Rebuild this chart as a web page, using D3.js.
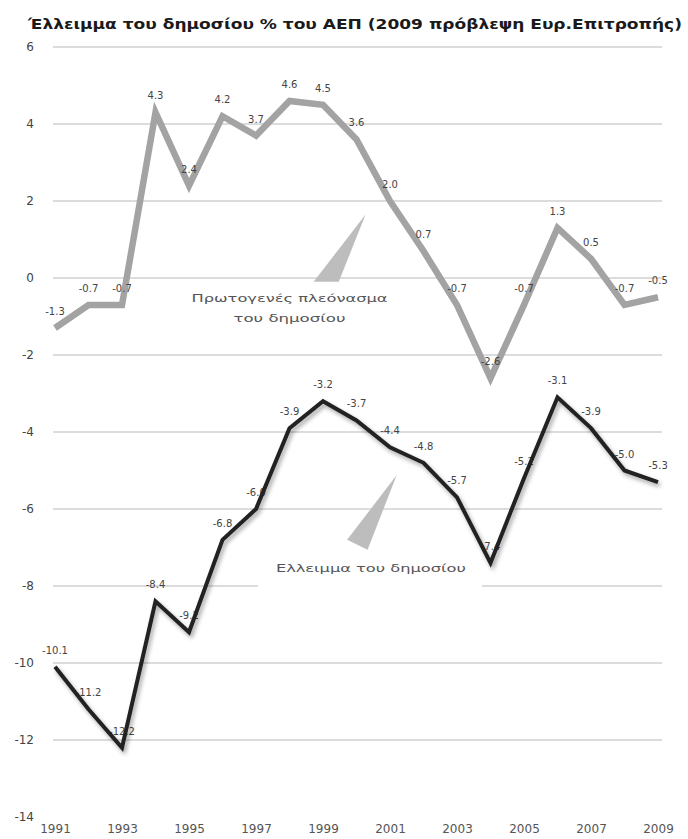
<!DOCTYPE html>
<html>
<head>
<meta charset="utf-8">
<script src="https://cdn.jsdelivr.net/npm/d3@7"></script>
<style>
  html, body { margin: 0; padding: 0; background: #fff; }
  svg { display: block; }
</style>
</head>
<body>
<svg id="chart" width="688" height="839"></svg>
<script>
// Greek general government balance, % of GDP (2009 = Commission forecast)
const years = [1991, 1992, 1993, 1994, 1995, 1996, 1997, 1998, 1999, 2000,
               2001, 2002, 2003, 2004, 2005, 2006, 2007, 2008, 2009];
// Primary balance (grey line)
const primaryBalance = [-1.3, -0.7, -0.7, 4.3, 2.4, 4.2, 3.7, 4.6, 4.5, 3.6,
                        2.0, 0.7, -0.7, -2.6, -0.7, 1.3, 0.5, -0.7, -0.5];
// Overall deficit (black line)
const deficit = [-10.1, -11.2, -12.2, -8.4, -9.2, -6.8, -6.0, -3.9, -3.2, -3.7,
                 -4.4, -4.8, -5.7, -7.4, -5.2, -3.1, -3.9, -5.0, -5.3];

const yTicks = [6, 4, 2, 0, -2, -4, -6, -8, -10, -12, -14];
const xTicks = [1991, 1993, 1995, 1997, 1999, 2001, 2003, 2005, 2007, 2009];

const titleText = "Έλλειμμα του δημοσίου % του ΑΕΠ (2009 πρόβλεψη Ευρ.Επιτροπής)";
const primaryLabel = ["Πρωτογενές πλεόνασμα", "του δημοσίου"];
const deficitLabel = "Ελλειμμα του δημοσίου";

const svg = d3.select("#chart");
const font = "'DejaVu Sans', 'Liberation Sans', sans-serif";

const x = d3.scaleLinear().domain([1991, 2009]).range([55, 658]);
const y = d3.scaleLinear().domain([-14, 6]).range([817, 47]);

// soft shadow under the deficit line
const defs = svg.append("defs");
const f = defs.append("filter").attr("id", "shadow")
  .attr("x", "-10%").attr("y", "-10%").attr("width", "120%").attr("height", "120%");
f.append("feDropShadow").attr("dx", 2).attr("dy", 3).attr("stdDeviation", 2)
  .attr("flood-color", "#000").attr("flood-opacity", 0.35);

// title
svg.append("text")
  .attr("x", 28).attr("y", 29)
  .attr("font-family", font).attr("font-size", 14).attr("font-weight", "bold")
  .attr("fill", "#1a1a1a")
  .attr("textLength", 654).attr("lengthAdjust", "spacingAndGlyphs")
  .text(titleText);

// horizontal gridlines
svg.append("g").selectAll("line")
  .data(yTicks.filter(t => t > -14))
  .join("line")
  .attr("x1", x(1991) - 2).attr("x2", x(2009) + 4)
  .attr("y1", d => y(d)).attr("y2", d => y(d))
  .attr("stroke", "#dcdcdc").attr("stroke-width", 2);

// y axis labels
const yAxis = svg.append("g")
  .attr("transform", `translate(${x(1991)},0)`)
  .call(d3.axisLeft(y).tickValues(yTicks).tickSize(0).tickPadding(21)
    .tickFormat(d => String(d)));
yAxis.select(".domain").remove();
yAxis.selectAll("text")
  .attr("font-family", font).attr("font-size", 12).attr("fill", "#444");

// x axis labels
const xAxis = svg.append("g")
  .attr("transform", `translate(0,${y(-14)})`)
  .call(d3.axisBottom(x).tickValues(xTicks).tickSize(0).tickPadding(7)
    .tickFormat(d3.format("d")));
xAxis.select(".domain").remove();
xAxis.selectAll("text")
  .attr("font-family", font).attr("font-size", 12).attr("fill", "#555");

// callout for the deficit line: white backing over the gridline
const defLabelPos = { year: 2000.43, value: -7.53, width: 190 };
svg.append("rect")
  .attr("x", x(defLabelPos.year) - defLabelPos.width / 2 - 18)
  .attr("y", y(defLabelPos.value) - 13)
  .attr("width", defLabelPos.width + 34).attr("height", 34)
  .attr("fill", "#fff");

// callout wedges (tip near the line, base near the caption)
const wedges = [
  [[2000.27, 1.65], [1998.72, -0.1], [1999.47, -0.1]],
  [[2001.2, -5.12], [1999.72, -6.8], [2000.33, -7.06]]
];
svg.append("g").selectAll("path")
  .data(wedges)
  .join("path")
  .attr("d", d => "M" + d.map(p => [x(p[0]), y(p[1])].join(",")).join("L") + "Z")
  .attr("fill", "#bdbdbd");

// callout captions
const primLabelPos = { year: 1998.0, values: [-0.52, -1.04], widths: [196, 112] };
svg.append("g").selectAll("text")
  .data(primaryLabel)
  .join("text")
  .attr("x", x(primLabelPos.year))
  .attr("y", (d, i) => y(primLabelPos.values[i]) + 4)
  .attr("text-anchor", "middle")
  .attr("font-family", font).attr("font-size", 11).attr("fill", "#555")
  .attr("textLength", (d, i) => primLabelPos.widths[i])
  .attr("lengthAdjust", "spacingAndGlyphs")
  .text(d => d);

svg.append("text")
  .attr("x", x(defLabelPos.year)).attr("y", y(defLabelPos.value) + 4)
  .attr("text-anchor", "middle")
  .attr("font-family", font).attr("font-size", 11).attr("fill", "#555")
  .attr("textLength", defLabelPos.width).attr("lengthAdjust", "spacingAndGlyphs")
  .text(deficitLabel);

const line = d3.line().x(d => x(d[0])).y(d => y(d[1]));
const primPts = years.map((yr, i) => [yr, primaryBalance[i]]);
const defPts = years.map((yr, i) => [yr, deficit[i]]);

// primary balance line
svg.append("path")
  .datum(primPts)
  .attr("d", line)
  .attr("fill", "none").attr("stroke", "#a3a3a3")
  .attr("stroke-width", 6.5).attr("stroke-linejoin", "miter");

// value labels
const labelGroup = svg.append("g")
  .attr("font-family", font).attr("font-size", 10).attr("fill", "#444")
  .attr("text-anchor", "middle");
labelGroup.selectAll("text.p")
  .data(primPts)
  .join("text").attr("class", "p")
  .attr("x", d => x(d[0])).attr("y", d => y(d[1]) - 13)
  .text(d => d[1].toFixed(1));
labelGroup.selectAll("text.d")
  .data(defPts)
  .join("text").attr("class", "d")
  .attr("x", d => x(d[0])).attr("y", d => y(d[1]) - 13)
  .text(d => d[1].toFixed(1));

// deficit line
svg.append("path")
  .datum(defPts)
  .attr("d", line)
  .attr("fill", "none").attr("stroke", "#222")
  .attr("stroke-width", 4).attr("stroke-linejoin", "miter")
  .attr("filter", "url(#shadow)");
</script>
</body>
</html>
